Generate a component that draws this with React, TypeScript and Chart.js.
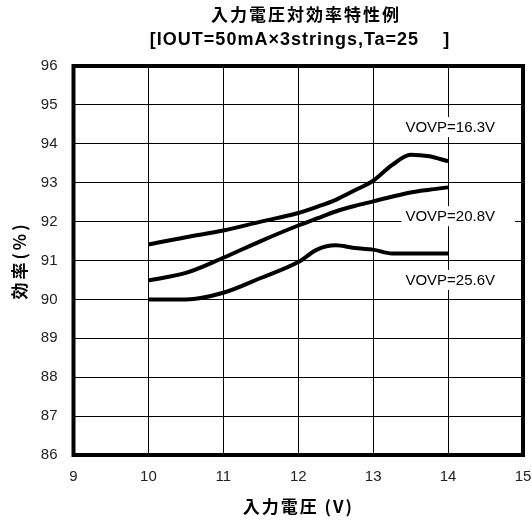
import React, { useEffect, useRef } from "react";
import { Chart, registerables } from "chart.js";

Chart.register(...registerables);

// Input voltage (V)
const vin = [10, 10.5, 11, 11.5, 12, 12.25, 12.5, 12.75, 13, 13.25, 13.5, 13.75, 14];
// Efficiency (%) for each OVP setting
const effOvp163 = [91.41, 91.6, 91.77, 92.0, 92.22, 92.38, 92.56, 92.8, 93.05, 93.45, 93.72, 93.68, 93.55];
const effOvp208 = [90.49, 90.68, 91.07, 91.5, 91.9, 92.08, 92.26, 92.4, 92.52, 92.64, 92.75, 92.82, 92.88];
const effOvp256 = [90.0, 90.0, 90.17, 90.55, 90.96, 91.28, 91.39, 91.32, 91.28, 91.18, 91.18, 91.18, 91.18];

const seriesLabels = ["VOVP=16.3V", "VOVP=20.8V", "VOVP=25.6V"];
const xTicks = [9, 10, 11, 12, 13, 14, 15];
const yTicks = [86, 87, 88, 89, 90, 91, 92, 93, 94, 95, 96];

const titleLine1 = "入力電圧対効率特性例";
const titleLine2 = "[IOUT=50mA×3strings,Ta=25    ]";
const xTitle = "入力電圧 (V)";
const yTitle = "効率(%)";

const SANS = "'Liberation Sans', Arial, sans-serif";
const CJK_BOLD = "bold 17px 'Noto Sans CJK JP', 'Liberation Sans', sans-serif";

// Where each series label sits, in data units (text left edge, text middle)
const labelAnchors: [number, number][] = [
  [13.43, 94.43],
  [13.43, 92.14],
  [13.43, 90.5],
];

const decorations = {
  id: "decorations",
  beforeDatasetsDraw(chart: any) {
    const { ctx, chartArea, scales } = chart;
    ctx.save();
    ctx.font = `15px ${SANS}`;
    ctx.textBaseline = "middle";
    ctx.textAlign = "left";
    seriesLabels.forEach((text, i) => {
      const x = scales.x.getPixelForValue(labelAnchors[i][0]);
      const y = scales.y.getPixelForValue(labelAnchors[i][1]);
      const w = ctx.measureText(text).width;
      ctx.fillStyle = "#fff";
      ctx.fillRect(x - 4, y - 10, Math.min(w + 24, chartArea.right - 2 - (x - 4)), 20);
      ctx.fillStyle = "#000";
      ctx.fillText(text, x, y + 1);
    });
    ctx.restore();
  },
  afterDatasetsDraw(chart: any) {
    const { ctx, chartArea } = chart;
    ctx.save();
    // plot frame
    ctx.strokeStyle = "#000";
    ctx.lineWidth = 4;
    ctx.strokeRect(
      chartArea.left,
      chartArea.top,
      chartArea.right - chartArea.left,
      chartArea.bottom - chartArea.top
    );
    ctx.fillStyle = "#000";
    ctx.textAlign = "center";
    ctx.textBaseline = "middle";
    const cx = (chartArea.left + chartArea.right) / 2;
    // two-line title
    ctx.font = CJK_BOLD;
    (ctx as any).letterSpacing = "2px";
    ctx.fillText(titleLine1, 306, 15);
    ctx.font = `bold 18px ${SANS}`;
    (ctx as any).letterSpacing = "1px";
    ctx.textBaseline = "alphabetic";
    ctx.fillText(titleLine2, 300, 44.5);
    // x axis title
    ctx.textBaseline = "middle";
    ctx.font = CJK_BOLD;
    (ctx as any).letterSpacing = "2px";
    ctx.fillText(xTitle, cx, 507);
    // y axis title
    ctx.translate(20, (chartArea.top + chartArea.bottom) / 2);
    ctx.rotate(-Math.PI / 2);
    (ctx as any).letterSpacing = "3px";
    ctx.fillText(yTitle, 0, 0);
    ctx.restore();
  },
};

export default function App() {
  const canvasRef = useRef<HTMLCanvasElement | null>(null);

  useEffect(() => {
    document.body.style.margin = "0";
    const canvas = canvasRef.current;
    if (!canvas) return;
    const line = (data: number[]) => ({
      data: vin.map((v, i) => ({ x: v, y: data[i] })),
      borderColor: "#000",
      borderWidth: 4,
      pointRadius: 0,
      fill: false,
      cubicInterpolationMode: "monotone" as const,
    });
    const chart = new Chart(canvas, {
      type: "line",
      data: {
        datasets: [line(effOvp163), line(effOvp208), line(effOvp256)].map((d, i) => ({
          ...d,
          label: seriesLabels[i],
        })),
      },
      options: {
        animation: false,
        responsive: false,
        devicePixelRatio: 1,
        layout: { padding: { left: 0, right: 9, top: 66, bottom: 0 } },
        plugins: {
          legend: { display: false },
          tooltip: { enabled: false },
          title: { display: false },
        },
        scales: {
          x: {
            type: "linear",
            min: xTicks[0],
            max: xTicks[xTicks.length - 1],
            afterBuildTicks: (s: any) => {
              s.ticks = xTicks.map((v) => ({ value: v }));
            },
            afterFit: (s: any) => {
              s.height = 66;
              s.paddingLeft = 0;
              s.paddingRight = 0;
            },
            grid: { color: "#000", lineWidth: 1, drawTicks: false },
            border: { display: false },
            ticks: {
              padding: 13,
              color: "#222",
              font: { family: SANS, size: 15 },
            },
          },
          y: {
            type: "linear",
            min: yTicks[0],
            max: yTicks[yTicks.length - 1],
            afterBuildTicks: (s: any) => {
              s.ticks = yTicks.map((v) => ({ value: v }));
            },
            afterFit: (s: any) => {
              s.width = 73.5;
              s.paddingTop = 0;
              s.paddingBottom = 0;
            },
            grid: { color: "#000", lineWidth: 1, drawTicks: false },
            border: { display: false },
            ticks: {
              padding: 16,
              color: "#222",
              font: { family: SANS, size: 15 },
            },
          },
        },
      },
      plugins: [decorations],
    });
    return () => chart.destroy();
  }, []);

  return (
    <div style={{ position: "absolute", left: 0, top: 0, width: 532, height: 521 }}>
      <canvas ref={canvasRef} width={532} height={521} />
    </div>
  );
}
